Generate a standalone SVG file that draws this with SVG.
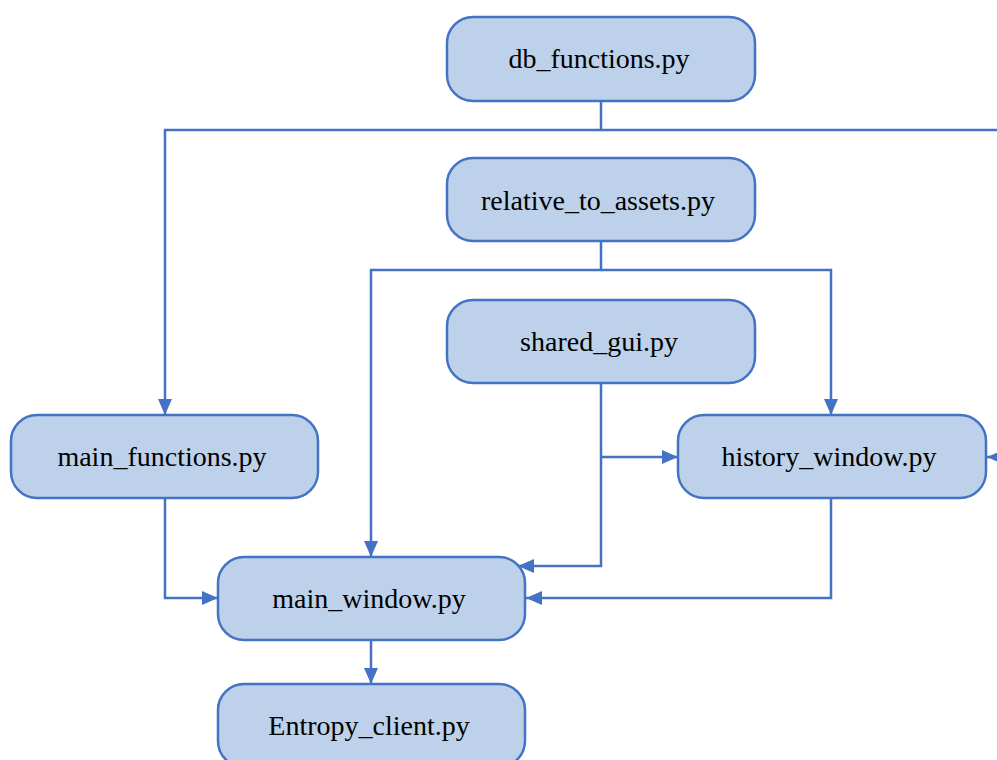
<svg xmlns="http://www.w3.org/2000/svg" width="997" height="760" viewBox="0 0 997 760">
<defs>
<style>
.box{fill:#BDD1EA;stroke:#4472C4;stroke-width:2.5}
.lbl{font-family:"Liberation Serif","Times New Roman",serif;font-size:28px;fill:#000;text-anchor:middle}
.con{fill:none;stroke:#4472C4;stroke-width:2.5}
</style>
<marker id="arr" viewBox="0 0 10 10" refX="10" refY="5" markerWidth="16" markerHeight="14" markerUnits="userSpaceOnUse" orient="auto" preserveAspectRatio="none">
<path d="M0,0 L10,5 L0,10 z" fill="#4472C4"/>
</marker>
</defs>
<rect width="997" height="760" fill="#FFFFFF"/>
<g id="connectors">
<path class="con" d="M601,101 V130 H165 V415" marker-end="url(#arr)"/>
<path class="con" d="M601,130 H1012 V457 H987" marker-end="url(#arr)"/>
<path class="con" d="M601,241 V270 H371 V557" marker-end="url(#arr)"/>
<path class="con" d="M601,270 H831 V415" marker-end="url(#arr)"/>
<path class="con" d="M601,383 V566 H518" marker-end="url(#arr)"/>
<path class="con" d="M601,457 H678" marker-end="url(#arr)"/>
<path class="con" d="M165,498 V598 H218" marker-end="url(#arr)"/>
<path class="con" d="M831,498 V598 H526" marker-end="url(#arr)"/>
<path class="con" d="M371,640 V684" marker-end="url(#arr)"/>
</g>
<g id="db_functions">
<rect class="box" x="447" y="17" width="308" height="84" rx="26"/>
<text class="lbl" x="599" y="68">db_functions.py</text>
</g>
<g id="relative_to_assets">
<rect class="box" x="447" y="158" width="308" height="83" rx="26"/>
<text class="lbl" x="598" y="210">relative_to_assets.py</text>
</g>
<g id="shared_gui">
<rect class="box" x="447" y="300" width="308" height="83" rx="26"/>
<text class="lbl" x="599" y="351">shared_gui.py</text>
</g>
<g id="main_functions">
<rect class="box" x="11" y="415" width="307" height="83" rx="26"/>
<text class="lbl" x="162" y="466">main_functions.py</text>
</g>
<g id="history_window">
<rect class="box" x="678" y="415" width="308" height="83" rx="26"/>
<text class="lbl" x="829" y="466">history_window.py</text>
</g>
<g id="main_window">
<rect class="box" x="218" y="557" width="307" height="83" rx="26"/>
<text class="lbl" x="369" y="608">main_window.py</text>
</g>
<g id="Entropy_client">
<rect class="box" x="218" y="684" width="307" height="83" rx="26"/>
<text class="lbl" x="369" y="735">Entropy_client.py</text>
</g>
</svg>
